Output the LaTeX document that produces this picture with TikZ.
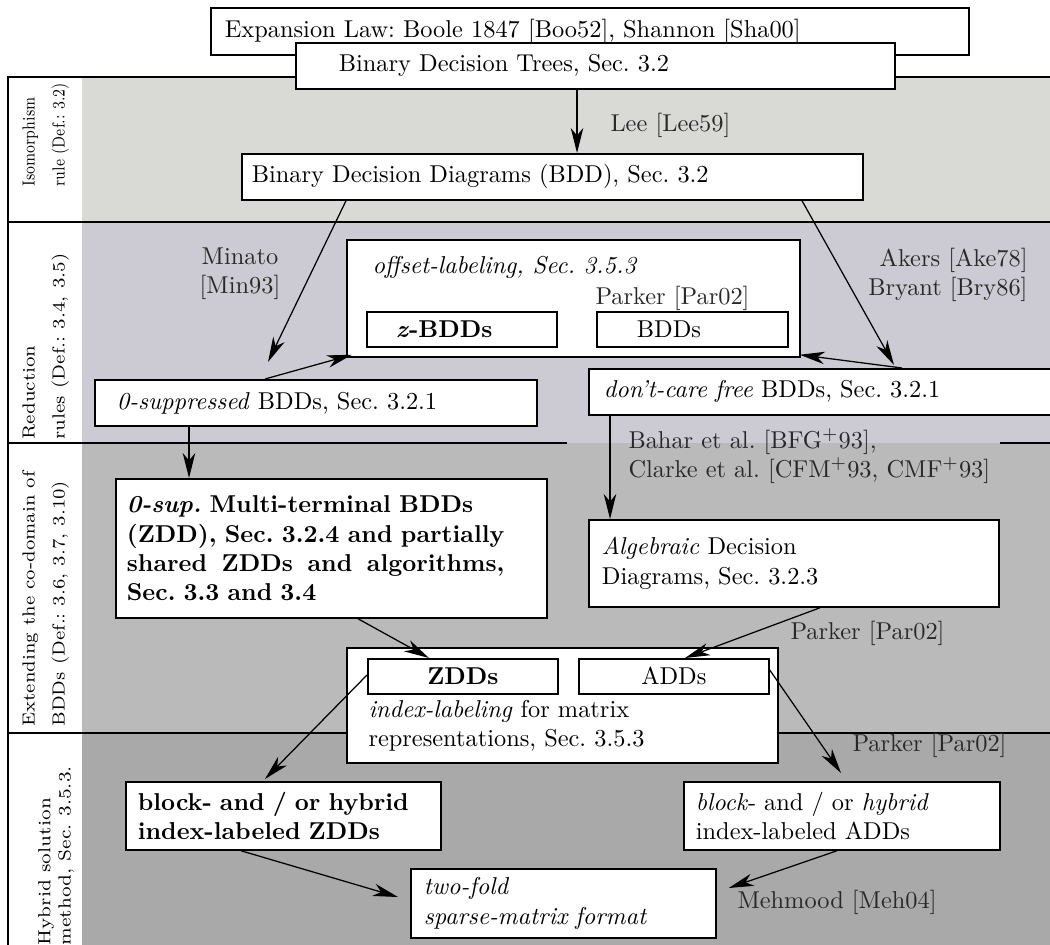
\documentclass[tikz,border=0pt]{standalone}
\usetikzlibrary{arrows.meta,calc}
\definecolor{bandA}{RGB}{217,218,214}
\definecolor{bandB}{RGB}{204,203,211}
\definecolor{bandC}{RGB}{186,186,186}
\definecolor{bandD}{RGB}{169,169,169}
\definecolor{notegray}{RGB}{40,40,40}
\newcommand\diagfont{\fontsize{9.75}{11.7}\selectfont}
\frenchspacing
\tikzset{
  box/.style={draw=black, line width=0.7pt, fill=white, anchor=north west,
    inner ysep=1pt, align=left, font=\diagfont},
  frame/.style={draw=black, line width=0.7pt, fill=white, anchor=north west, inner sep=0pt},
  note/.style={inner sep=0pt, text=notegray, font=\diagfont},
  sidelabel/.style={rotate=90, anchor=north west, inner sep=0pt},
  rule/.style={line width=0.7pt, draw=black},
  arr/.style={-{Stealth[length=10pt,width=5pt,inset=3pt]}, line width=0.5pt}
}
\begin{document}
\begin{tikzpicture}[x=0.4pt,y=-0.4pt]
\useasboundingbox (0,0) rectangle (1050,944);
\clip (0,0) rectangle (1050,944);

% horizontal bands
\fill[bandA] (82,77) rectangle (1060,222);
\fill[bandB] (82,222) rectangle (1060,443);
\fill[bandC] (82,443) rectangle (1060,733);
\fill[bandD] (82,733) rectangle (1060,950);
\draw[rule] (8,950) -- (8,77) -- (1060,77);
\draw[rule] (8,222) -- (1060,222);
\draw[rule] (8,443) -- (567,443);
\draw[rule] (1000,443) -- (1060,443);
\draw[rule] (8,733) -- (1060,733);

% band captions
\node[sidelabel] (isolab) at (13,187) {\scalebox{0.8}[1]{\fontsize{7}{12}\selectfont
  \begin{tabular}{@{}l@{}}Isomorphism\\rule (Def.: 3.2)\end{tabular}}};
\node[sidelabel] (redlab) at (13,440) {\scalebox{1.06}[1]{\fontsize{7}{12}\selectfont
  \begin{tabular}{@{}l@{}}Reduction\\rules (Def.: 3.4, 3.5)\end{tabular}}};
\node[sidelabel] (extlab) at (13,727) {\scalebox{1.05}[1]{\fontsize{7}{12}\selectfont
  \begin{tabular}{@{}l@{}}Extending the co-domain of\\BDDs (Def.: 3.6, 3.7, 3.10)\end{tabular}}};
\node[sidelabel] (hyblab) at (36,946) {\scalebox{1.08}[1]{\fontsize{7}{8}\selectfont
  \begin{tabular}{@{}l@{}}Hybrid solution\\method, Sec. 3.5.3.\end{tabular}}};

% boxes
\node[box, text width=292pt, inner xsep=5.6pt, minimum height=18.8pt] (exp) at (210,7)
  {Expansion Law: Boole 1847 [Boo52], Shannon [Sha00]};
\node[box, text width=205.2pt, inner xsep=17.2pt, minimum height=18.4pt] (bdt) at (295,42)
  {Binary Decision Trees, Sec. 3.2};
\node[box, text width=240.4pt, inner xsep=4pt, minimum height=18.4pt] (bdd) at (241,153)
  {Binary Decision Diagrams (BDD), Sec. 3.2};

\node[frame, minimum width=181.2pt, minimum height=46.8pt] (off) at (346,239) {};
\node[note, anchor=west, text=black] (offtext) at (372,267) {\textit{offset-labeling, Sec. 3.5.3}};
\node[box, text width=52.8pt, inner xsep=11.6pt, inner ysep=0pt, minimum height=14pt] (zb) at (366,311)
  {\textbf{\textit{z}-BDDs}};
\node[box, text width=44.4pt, inner xsep=16pt, inner ysep=0pt, minimum height=14pt] (bd) at (596,311)
  {BDDs};

\node[box, text width=159.2pt, inner xsep=8.8pt, minimum height=18.4pt] (zs) at (94,379)
  {\textit{0-suppressed} BDDs, Sec. 3.2.1};
\node[box, text width=176.8pt, inner xsep=6pt, minimum height=18.4pt] (dc) at (588,368)
  {\textit{don't-care free} BDDs, Sec. 3.2.1};

\node[box, text width=163.6pt, inner xsep=4.4pt, minimum height=55.6pt, font=\diagfont\bfseries] (mt) at (115,478)
  {\textit{0-sup.} Multi-terminal BDDs\\
   \makebox[151pt][l]{(ZDD),\hfill Sec.\hfill 3.2.4\hfill and\hfill partially}\\
   \makebox[151pt][l]{shared\hfill ZDDs\hfill and\hfill algorithms,}\\
   Sec. 3.3 and 3.4};
\node[box, text width=153.6pt, inner xsep=5.2pt, minimum height=34.8pt] (alg) at (588,519)
  {\textit{Algebraic} Decision\\Diagrams, Sec. 3.2.3};

\node[frame, minimum width=172.4pt, minimum height=46pt] (idx) at (346,647) {};
\node[box, minimum width=76pt, minimum height=14pt, inner ysep=0pt, align=center] (zd) at (367,658)
  {\textbf{ZDDs}};
\node[box, minimum width=76pt, minimum height=14pt, inner ysep=0pt, align=center] (ad) at (578,658)
  {ADDs};
\node[note, anchor=west, align=left, text=black] (idxtext) at (368,726)
  {\textit{index-labeling} for matrix\\representations, Sec. 3.5.3};

\node[box, text width=116.4pt, inner xsep=4.8pt, minimum height=27.2pt, font=\diagfont\bfseries] (bz) at (125,781)
  {\mbox{block- and / or hybrid}\\\mbox{index-labeled ZDDs}};
\node[box, text width=116.8pt, inner xsep=4.8pt, minimum height=27.2pt] (ba) at (683,781)
  {\mbox{\textit{block}- and / or \textit{hybrid}}\\\mbox{index-labeled ADDs}};
\node[box, text width=111.6pt, inner xsep=5.2pt, minimum height=27.6pt] (tf) at (410,868)
  {\textit{two-fold}\\\textit{sparse-matrix format}};

% annotations
\node[note, anchor=west] (lee) at (610,125) {Lee [Lee59]};
\node[note, align=center] (minato) at (240,274) {Minato\\[0pt][Min93]};
\node[note, anchor=east, align=right] (akers) at (1028,275) {Akers [Ake78]\\[0pt]Bryant [Bry86]};
\node[note, anchor=west] (parkA) at (595,298) {Parker [Par02]};
\node[note, anchor=west, align=left] (bahar) at (628,456)
  {Bahar et al. [BFG$^+$93],\\[0pt]Clarke et al. [CFM$^+$93, CMF$^+$93]};
\node[note, anchor=west] (parkB) at (790,633) {Parker [Par02]};
\node[note, anchor=west] (parkC) at (852,745) {Parker [Par02]};
\node[note, anchor=west] (mehmood) at (737,902) {Mehmood [Meh04]};

% connectors
\draw[arr] ($(bdt.south west)+(282,0)$) -- ($(bdd.north west)+(336,0)$);
\draw[arr] ($(bdd.south west)+(105,0)$) -- ($(zs.north west)+(174,-17)$);
\draw[arr] ($(zs.north west)+(171,0)$) -- ($(off.south west)+(6,-3)$);
\draw[arr] ($(bdd.south west)+(561,0)$) -- ($(dc.north west)+(306,-3)$);
\draw[arr] ($(dc.north west)+(314,0)$) -- ($(off.south east)+(-1,-3)$);
\draw[arr] ($(zs.south west)+(95,0)$) -- ($(mt.north west)+(74,0)$);
\draw[arr] ($(dc.south west)+(22,0)$) -- ($(alg.north west)+(22,0)$);
\draw[arr] ($(mt.south west)+(243,0)$) -- ($(zd.north west)+(62,0)$);
\draw[arr] ($(alg.south west)+(232,0)$) -- ($(ad.north west)+(107,0)$);
\draw[arr] ($(zd.north west)+(0,17)$) -- ($(bz.north west)+(140,-2)$);
\draw[arr] ($(ad.north east)+(0,12)$) -- ($(ba.north west)+(158,-8)$);
\draw[arr] ($(bz.south west)+(116,0)$) -- ($(tf.north west)+(-12,29)$);
\draw[arr] ($(ba.south west)+(154,0)$) -- ($(tf.north east)+(12,20)$);
\end{tikzpicture}
\end{document}
